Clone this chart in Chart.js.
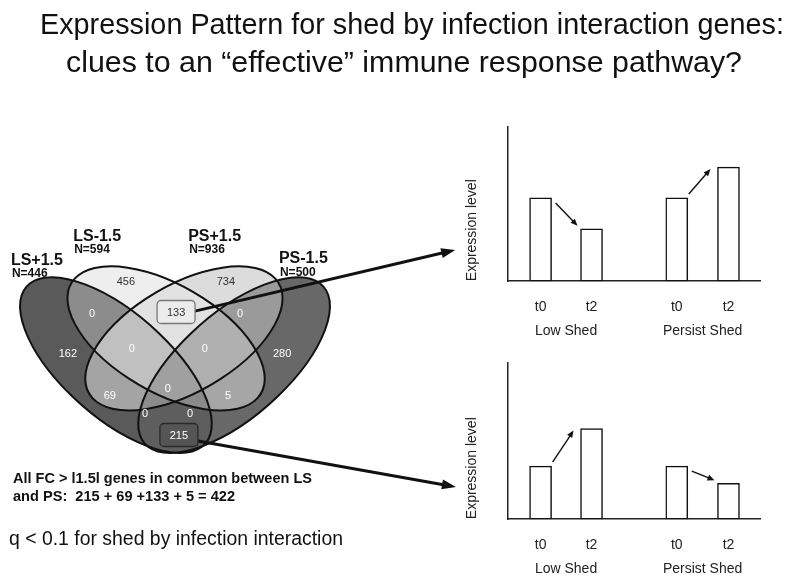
<!DOCTYPE html>
<html>
<head>
<meta charset="utf-8">
<script src="https://cdn.jsdelivr.net/npm/chart.js@4.4.1/dist/chart.umd.min.js"></script>
<style>
  body { margin:0; background:#fff; width:796px; height:579px; overflow:hidden; position:relative;
         font-family:"Liberation Sans", Arial, sans-serif; color:#111; }
  canvas { position:absolute; }
  #venn { left:0; top:0; }
  #topChart { left:455px; top:115px; }
  #bottomChart { left:455px; top:351px; }
  .txt { position:absolute; white-space:pre; transform-origin:0 0; }
  .title { font-family:"Liberation Sans Narrow","Arial Narrow","Liberation Sans",Arial,sans-serif;
           font-size:30px; line-height:30px; color:#111; }
</style>
</head>
<body>
<canvas id="venn" width="796" height="579"></canvas>
<canvas id="topChart" width="320" height="235"></canvas>
<canvas id="bottomChart" width="320" height="236"></canvas>

<div class="txt title" data-x="40" data-w="744" style="top:9px">Expression Pattern for shed by infection interaction genes:</div>
<div class="txt title" data-x="66" data-w="676" style="top:47px">clues to an “effective” immune response pathway?</div>
<div class="txt" data-x="13" data-w="299" style="top:469px;font-weight:bold;font-size:15px;line-height:17px">All FC &gt; l1.5l genes in common between LS</div>
<div class="txt" data-x="13" data-w="222" style="top:487px;font-weight:bold;font-size:15px;line-height:17px">and PS:  215 + 69 +133 + 5 = 422</div>
<div class="txt" data-x="9" data-w="334" style="top:527px;font-size:20px;line-height:22px">q &lt; 0.1 for shed by infection interaction</div>

<script>
// venn data: A = LS+1.5, B = LS-1.5, C = PS+1.5, D = PS-1.5
var setKeys = ["A", "B", "C", "D"];
var setNames = ["LS+1.5", "LS-1.5", "PS+1.5", "PS-1.5"];
var setSizes = [446, 594, 936, 500];
var regionSets = ["B", "C", "AB", "BC", "CD", "A", "ABC", "BCD", "D", "AC", "ABCD", "BD", "ACD", "ABD", "AD"];
var regionCounts = [456, 734, 0, 133, 0, 162, 0, 0, 280, 69, 0, 5, 0, 0, 215];
var boxedRegions = ["BC", "AD"];

// schematic bar charts
var timeLabels = ["t0", "t2", "t0", "t2"];
var groupLabels = ["Low Shed", "Persist Shed"];
var upperLevels = [5.4, 3.4, 5.4, 7.4];
var lowerLevels = [3.4, 5.8, 3.4, 2.3];

// ---- layout (venn in unit coords, bar slots on a 0..10 axis) ----
var ellipses = {
  A: { x: 0.334, y: 0.478, a: 0.364, b: 0.161, rot: 131.4 },
  B: { x: 0.475, y: 0.567, a: 0.325, b: 0.170, rot: 142.2 },
  C: { x: 0.525, y: 0.567, a: 0.325, b: 0.170, rot: 37.8 },
  D: { x: 0.666, y: 0.478, a: 0.364, b: 0.161, rot: 48.6 }
};
var regionFill = {
  A: "#5a5a5a", B: "#eeeeee", C: "#dcdcdc", D: "#686868",
  AB: "#8c8c8c", BC: "#e2e2e2", CD: "#9a9a9a", AC: "#a4a4a4", BD: "#a6a6a6", AD: "#5e5e5e",
  ABC: "#c0c0c0", BCD: "#b0b0b0", ABD: "#8a8a8a", ACD: "#8c8c8c", ABCD: "#a0a0a0"
};
var regionPos = [
  [0.362, 0.758], [0.643, 0.758], [0.267, 0.652], [0.503, 0.655], [0.683, 0.652],
  [0.199, 0.518], [0.379, 0.535], [0.584, 0.535], [0.801, 0.518], [0.317, 0.378],
  [0.480, 0.402], [0.649, 0.378], [0.416, 0.318], [0.542, 0.318], [0.511, 0.245]
];
var namePos = [[0.039, 0.828], [0.214, 0.908], [0.537, 0.908], [0.792, 0.832]];
var calloutArrows = [
  { from: [0.556, 0.658], to: [1.287, 0.862] },
  { from: [0.565, 0.225], to: [1.289, 0.072] }
];
var slots = [1.3, 3.32, 6.7, 8.75];

var FONT = '"Liberation Sans", Arial, sans-serif';

function ellPath(ctx, xs, ys, e) {
  var sx = xs.getPixelForValue(1) - xs.getPixelForValue(0);
  var sy = ys.getPixelForValue(0) - ys.getPixelForValue(1);
  ctx.save();
  ctx.translate(xs.getPixelForValue(e.x), ys.getPixelForValue(e.y));
  ctx.scale(sx, -sy);
  ctx.beginPath();
  ctx.ellipse(0, 0, e.a, e.b, e.rot * Math.PI / 180, 0, Math.PI * 2);
  ctx.restore();
}

function arrow(ctx, x1, y1, x2, y2, lw, head, hw) {
  var ang = Math.atan2(y2 - y1, x2 - x1);
  ctx.save();
  ctx.strokeStyle = "#111"; ctx.fillStyle = "#111"; ctx.lineWidth = lw;
  ctx.beginPath();
  ctx.moveTo(x1, y1);
  ctx.lineTo(x2 - Math.cos(ang) * head * 0.8, y2 - Math.sin(ang) * head * 0.8);
  ctx.stroke();
  ctx.translate(x2, y2); ctx.rotate(ang);
  ctx.beginPath();
  ctx.moveTo(0, 0); ctx.lineTo(-head, -hw / 2); ctx.lineTo(-head, hw / 2); ctx.closePath();
  ctx.fill();
  ctx.restore();
}

function roundBox(ctx, cx, cy, w, h, r) {
  ctx.beginPath();
  ctx.roundRect(cx - w / 2, cy - h / 2, w, h, r);
}

var vennPlugin = {
  id: "venn",
  beforeDatasetsDraw: function (chart) {
    var ctx = chart.ctx, xs = chart.scales.x, ys = chart.scales.y;
    // fill each region: paint intersections from small to large set counts
    Object.keys(regionFill).sort(function (a, b) { return a.length - b.length; }).forEach(function (key) {
      ctx.save();
      key.split("").forEach(function (s) { ellPath(ctx, xs, ys, ellipses[s]); ctx.clip(); });
      ctx.fillStyle = regionFill[key];
      ctx.fillRect(0, 0, chart.width, chart.height);
      ctx.restore();
    });
    ctx.save();
    ctx.strokeStyle = "#111"; ctx.lineWidth = 2;
    setKeys.forEach(function (s) { ellPath(ctx, xs, ys, ellipses[s]); ctx.stroke(); });
    ctx.restore();

    // callout arrows to the bar sketches
    calloutArrows.forEach(function (c) {
      arrow(ctx, xs.getPixelForValue(c.from[0]), ys.getPixelForValue(c.from[1]),
            xs.getPixelForValue(c.to[0]), ys.getPixelForValue(c.to[1]), 3, 14, 10);
    });

    // region counts
    var meta = chart.getDatasetMeta(0);
    ctx.save();
    ctx.textAlign = "center"; ctx.textBaseline = "middle";
    ctx.font = "11px " + FONT;
    regionCounts.forEach(function (n, i) {
      var p = meta.data[i], key = regionSets[i];
      if (boxedRegions.indexOf(key) >= 0) {
        var dark = parseInt(regionFill[key].slice(1, 3), 16) < 0x90;
        roundBox(ctx, p.x, p.y, 38, 23, 4);
        ctx.fillStyle = dark ? "#555555" : "#ececec";
        ctx.fill();
        ctx.lineWidth = 1.3; ctx.strokeStyle = dark ? "#2a2a2a" : "#777777";
        ctx.stroke();
      }
      var light = parseInt(regionFill[key].slice(1, 3), 16) > 0xd0;
      ctx.fillStyle = light ? "#333333" : "#ffffff";
      ctx.fillText(String(n), p.x, p.y + 1);
    });

    // set names and sizes
    ctx.textAlign = "left"; ctx.fillStyle = "#111";
    setNames.forEach(function (nm, i) {
      var x = xs.getPixelForValue(namePos[i][0]), y = ys.getPixelForValue(namePos[i][1]);
      ctx.font = "bold 16px " + FONT;
      ctx.fillText(nm, x, y);
      ctx.font = "bold 12px " + FONT;
      ctx.fillText("N=" + setSizes[i], x + 1, y + 14);
    });
    ctx.restore();
  }
};

new Chart(document.getElementById("venn"), {
  type: "scatter",
  data: { datasets: [{ data: regionPos.map(function (p) { return { x: p[0], y: p[1] }; }), pointRadius: 0, pointHoverRadius: 0 }] },
  options: {
    responsive: false, animation: false, events: [],
    layout: { padding: 0 },
    plugins: { legend: { display: false }, tooltip: { enabled: false } },
    scales: {
      x: { type: "linear", display: false, min: 0.00843, max: 2.24438 },
      y: { type: "linear", display: false, min: -0.235, max: 1.695 }
    }
  },
  plugins: [vennPlugin]
});

var groupPlugin = {
  id: "groups",
  afterDraw: function (chart) {
    var ctx = chart.ctx, xs = chart.scales.x;
    ctx.save();
    ctx.font = "14px " + FONT; ctx.fillStyle = "#222";
    ctx.textAlign = "center"; ctx.textBaseline = "middle";
    groupLabels.forEach(function (g, i) {
      var xc = (xs.getPixelForValue(slots[2 * i]) + xs.getPixelForValue(slots[2 * i + 1])) / 2;
      ctx.fillText(g, xc, xs.top + 50);
    });
    ctx.restore();
  }
};

var trendPlugin = {
  id: "trend",
  afterDatasetsDraw: function (chart) {
    var ctx = chart.ctx, bars = chart.getDatasetMeta(0).data;
    [[0, 1], [2, 3]].forEach(function (pr) {
      var p = bars[pr[0]], q = bars[pr[1]];
      var r = p.x + p.width / 2, l = q.x - q.width / 2;
      if (q.y > p.y) arrow(ctx, r + 4, p.y + 5, l - 3, q.y - 3, 1.4, 7, 6);
      else arrow(ctx, r + 1, p.y - 4, l - 7, q.y + 2, 1.4, 7, 6);
    });
  }
};

function sketchChart(id, levels, bottomPad) {
  return new Chart(document.getElementById(id), {
    type: "bar",
    data: {
      datasets: [{
        data: levels.map(function (v, i) { return { x: slots[i], y: v }; }),
        backgroundColor: "#ffffff", borderColor: "#111", borderWidth: 1.5,
        borderSkipped: false, barThickness: 22
      }]
    },
    options: {
      responsive: false, animation: false, events: [],
      layout: { padding: { left: 0, right: 15, top: 12, bottom: bottomPad } },
      plugins: { legend: { display: false }, tooltip: { enabled: false } },
      scales: {
        x: {
          type: "linear", min: 0, max: 10, offset: false,
          grid: { display: false, drawTicks: false },
          border: { display: true, color: "#222", width: 1.5 },
          afterBuildTicks: function (s) { s.ticks = slots.map(function (v) { return { value: v }; }); },
          ticks: {
            padding: 18, color: "#222", autoSkip: false, maxRotation: 0,
            font: { size: 14, family: FONT },
            callback: function (v, i) { return timeLabels[i]; }
          }
        },
        y: {
          min: 0, max: 10,
          grid: { display: false, drawTicks: false },
          border: { display: true, color: "#222", width: 1.5 },
          ticks: { display: false },
          title: { display: true, text: "Expression level", color: "#222", align: "start",
                   font: { size: 14, family: FONT }, padding: { top: 9, bottom: 27 } }
        }
      }
    },
    plugins: [groupPlugin, trendPlugin]
  });
}

sketchChart("topChart", upperLevels, 16);
sketchChart("bottomChart", lowerLevels, 15);

// squeeze the slide text to the reference widths
document.querySelectorAll(".txt").forEach(function (el) {
  el.style.left = el.dataset.x + "px";
  var w = el.getBoundingClientRect().width;
  el.style.transform = "scaleX(" + (Number(el.dataset.w) / w) + ")";
});
</script>
</body>
</html>
